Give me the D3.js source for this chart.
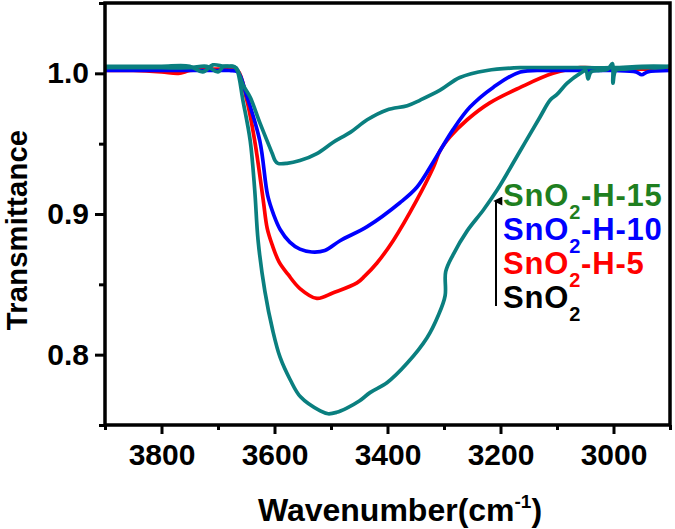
<!DOCTYPE html>
<html><head><meta charset="utf-8">
<script src="https://cdn.jsdelivr.net/npm/d3@7"></script>
<style>
body{margin:0;background:#fff}
svg text{font-family:"Liberation Sans",Arial,sans-serif;font-weight:bold}
</style>
</head><body>
<svg id="chart" width="675" height="529"></svg>
<script>
// ---------- data ----------
const sno2Wn = [3900,3850,3800,3750,3720,3700,3690,3680,3672,3666,3656,3643,3635,3629,3617,3603,3590,3572,3554,3519,3505,3490,3472,3450,3431,3401,3365,3330,3310,3298,3297,3284,3259,3230,3206,3165,3130,3112,3100,3082,3059,3049,3045,3040,3024,3010,3002,3001,2996,2980,2950,2920,2900];
const sno2T  = [1.004,1.004,1.004,1.004,1.005,1.001,1.005,1.005,1.005,1.002,0.981,0.952,0.917,0.881,0.845,0.817,0.798,0.782,0.770,0.760,0.758,0.759,0.762,0.767,0.773,0.780,0.794,0.812,0.828,0.842,0.859,0.871,0.888,0.903,0.917,0.945,0.969,0.981,0.985,0.993,1.000,1.002,0.996,1.001,1.002,1.003,1.007,0.993,1.002,1.003,1.004,1.004,1.005];

const h5Wn = [3900,3850,3800,3770,3750,3720,3700,3680,3665,3649,3635,3620,3613,3604,3592,3576,3555,3525,3496,3454,3440,3419,3390,3348,3319,3307,3289,3259,3219,3165,3107,3059,3000,2950,2900];
const h5T  = [1.002,1.002,1.001,1.000,1.002,1.003,1.003,1.003,1.002,0.981,0.952,0.910,0.890,0.878,0.866,0.857,0.847,0.840,0.844,0.851,0.856,0.865,0.881,0.910,0.933,0.945,0.955,0.967,0.979,0.990,1.000,1.004,1.003,1.003,1.003];

const h10Wn = [3900,3850,3800,3750,3700,3680,3665,3650,3626,3612,3601,3590,3573,3555,3534,3511,3484,3436,3378,3348,3319,3307,3284,3254,3213,3165,3107,3050,3000,2960,2950,2940,2900];
const h10T  = [1.002,1.002,1.002,1.002,1.002,1.002,1.001,0.985,0.952,0.913,0.899,0.889,0.880,0.875,0.873,0.874,0.881,0.891,0.908,0.919,0.937,0.945,0.960,0.976,0.990,1.001,1.002,1.002,1.002,1.001,0.999,1.001,1.002];

const h15Wn = [3900,3850,3800,3750,3727,3709,3690,3680,3668,3656,3643,3626,3604,3599,3594,3578,3555,3525,3496,3466,3436,3401,3365,3342,3307,3272,3224,3165,3100,3050,3000,2950,2900];
const h15T  = [1.005,1.005,1.005,1.005,1.001,1.006,1.005,1.005,1.004,0.992,0.983,0.965,0.943,0.938,0.936,0.936,0.938,0.943,0.951,0.958,0.967,0.974,0.977,0.981,0.988,0.997,1.002,1.004,1.004,1.004,1.004,1.005,1.005];

const xMajorTicks = [3800,3600,3400,3200,3000];
const xMinorTicks = [3900,3700,3500,3300,3100,2900];
const yMajorTicks = [0.8,0.9,1.0];
const yMinorTicks = [0.75,0.85,0.95,1.05];

const legendSuffix = ["-H-15","-H-10","-H-5",""];
const legendColors = ["#1f7f1f","#0000ff","#ff0000","#000000"];

// ---------- chart ----------
const svg = d3.select("#chart");
const X0 = 105, X1 = 670, Y0 = 3, Y1 = 425;
const x = d3.scaleLinear().domain([3900,2900]).range([X0,X1]);
const y = d3.scaleLinear().domain([0.75,1.05]).range([Y1,Y0]);

const series = [
  {wn:h5Wn, t:h5T, color:"#ff0000"},
  {wn:h10Wn, t:h10T, color:"#0000ff"},
  {wn:sno2Wn, t:sno2T, color:"#0a7f7f"},
  {wn:h15Wn, t:h15T, color:"#0a7f7f"}
];
const line = d3.line().x(d=>x(d[0])).y(d=>y(d[1])).curve(d3.curveCatmullRom.alpha(0.5));
svg.append("clipPath").attr("id","clip").append("rect")
  .attr("x",X0).attr("y",Y0).attr("width",X1-X0).attr("height",Y1-Y0);
const g = svg.append("g").attr("clip-path","url(#clip)");
series.forEach(s=>{
  g.append("path").datum(s.wn.map((w,i)=>[w,s.t[i]]))
    .attr("d",line).attr("fill","none").attr("stroke",s.color)
    .attr("stroke-width",3.7).attr("stroke-linejoin","round");
});

// axes
function styleAxis(sel){
  sel.select(".domain").remove();
  sel.selectAll(".tick line").attr("stroke","#000").attr("stroke-width",3);
  sel.selectAll(".tick text").attr("fill","#000").style("font-size","30px").style("font-family","'Liberation Sans',Arial,sans-serif").style("font-weight","bold");
}
svg.append("g").attr("transform",`translate(0,${Y1})`)
  .call(d3.axisBottom(x).tickValues(xMajorTicks).tickSize(9).tickPadding(10).tickFormat(d3.format("d")))
  .call(styleAxis);
svg.append("g").attr("transform",`translate(0,${Y1})`)
  .call(d3.axisBottom(x).tickValues(xMinorTicks).tickSize(5).tickFormat(""))
  .call(styleAxis);
svg.append("g").attr("transform",`translate(${X0},0)`)
  .call(d3.axisLeft(y).tickValues(yMajorTicks).tickSize(10).tickPadding(6).tickFormat(d3.format(".1f")))
  .call(styleAxis);
svg.append("g").attr("transform",`translate(${X0},0)`)
  .call(d3.axisLeft(y).tickValues(yMinorTicks).tickSize(6).tickFormat(""))
  .call(styleAxis);

svg.append("rect").attr("x",X0).attr("y",Y0).attr("width",X1-X0).attr("height",Y1-Y0)
  .attr("fill","none").attr("stroke","#000").attr("stroke-width",3.5);

// axis titles
svg.append("text").attr("transform","translate(27,230) rotate(-90)")
  .attr("text-anchor","middle").style("font-size","29px").style("letter-spacing","0.3px").text("Transmittance");
const xt = svg.append("text").attr("x",400).attr("y",521).attr("text-anchor","middle").style("font-size","32px");
xt.append("tspan").text("Wavenumber(cm");
xt.append("tspan").attr("dy",-13).style("font-size","19px").text("-1");
xt.append("tspan").attr("dy",13).text(")");

// legend
svg.append("defs").append("marker").attr("id","arr").attr("viewBox","0 0 10 10")
  .attr("refX",5).attr("refY",3).attr("markerWidth",9).attr("markerHeight",12)
  .attr("orient","auto-start-reverse").attr("markerUnits","userSpaceOnUse")
  .append("path").attr("d","M0,10 L5,0 L10,10 Z").attr("fill","#000");
svg.append("line").attr("x1",496).attr("x2",496).attr("y1",306).attr("y2",201)
  .attr("stroke","#000").attr("stroke-width",2).attr("marker-end","url(#arr)");

legendColors.forEach((c,i)=>{
  const t = svg.append("text").attr("x",503).attr("y",206+i*34).attr("fill",c)
    .style("font-size","31px").style("letter-spacing","0.8px");
  t.append("tspan").text("SnO");
  t.append("tspan").attr("dy",13).style("font-size","20px").text("2");
  if(legendSuffix[i]) t.append("tspan").attr("dy",-13).text(legendSuffix[i]);
});
</script>
</body></html>
